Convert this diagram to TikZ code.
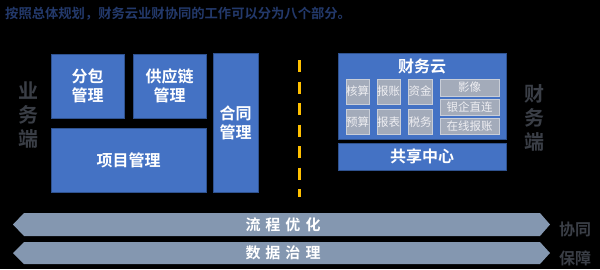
\documentclass[tikz,border=0pt]{standalone}
\usepackage{fontspec}
\newfontfamily\cjk{Noto Sans CJK SC}[BoldFont={Noto Sans CJK SC Bold}]
\definecolor{boxblue}{HTML}{4472C4}
\definecolor{blueedge}{HTML}{2F528F}
\definecolor{smallgray}{HTML}{A3ABBA}
\definecolor{smalledge}{HTML}{C9CED8}
\definecolor{smalltext}{HTML}{EEEEF2}
\definecolor{arrowgray}{HTML}{8497B0}
\definecolor{sidegray}{HTML}{3A3E46}
\definecolor{titlenavy}{HTML}{23396B}
\definecolor{dashyellow}{HTML}{FFC000}
\tikzset{
  bluebox/.style={draw=blueedge, fill=boxblue, text=white, line width=0.8pt,
    font=\cjk\bfseries\fontsize{16}{19}\selectfont, align=center, inner sep=0pt},
  smallbox/.style={draw=smalledge, fill=smallgray, text=smalltext, line width=0.8pt,
    font=\cjk\fontsize{11.5}{13}\selectfont, inner sep=0pt},
  sidelabel/.style={text=sidegray, font=\cjk\bfseries\fontsize{20}{24}\selectfont, align=center, inner sep=0pt},
  bandlabel/.style={text=white, font=\cjk\bfseries\fontsize{15}{18}\selectfont, inner sep=0pt},
  band/.style={fill=arrowgray},
  sidesmall/.style={text=sidegray, font=\cjk\bfseries\fontsize{16}{19}\selectfont, inner sep=0pt},
}
\begin{document}
\begin{tikzpicture}[x=1pt,y=-1pt]
\fill[black] (0,0) rectangle (600,269);
\useasboundingbox (0,0) rectangle (600,269);
% title
\node[anchor=west, text=titlenavy, font=\cjk\bfseries\fontsize{13.3}{16}\selectfont, inner sep=0pt] (title) at (5,14) {按照总体规划，财务云业财协同的工作可以分为八个部分。};
% business side
\node[sidelabel] (yewu) at (29,115) {业\\务\\端};
\node[bluebox, minimum width=73pt, minimum height=64pt] (fenbao) at (87.5,86) {分包\\管理};
\node[bluebox, minimum width=73pt, minimum height=64pt] (gongying) at (169.5,86) {供应链\\管理};
\node[bluebox, minimum width=155pt, minimum height=64pt] (xiangmu) at (128.5,160) {项目管理};
\node[bluebox, minimum width=45pt, minimum height=139pt] (hetong) at (235.5,122.5) {合同\\管理};
% divider
\coordinate (dtop) at (299,60);
\coordinate (dbot) at (299,197);
\draw[dashyellow, line width=3pt, dash pattern=on 12pt off 9.5pt] (dtop) -- (dbot);
% finance cloud
\node[bluebox, minimum width=168pt, minimum height=86pt] (cloud) at (422,96) {};
\node[text=white, font=\cjk\bfseries\fontsize{16}{19}\selectfont, inner sep=0pt] (cloudtitle) at (422,66) {财务云};
\node[smallbox, minimum width=23pt, minimum height=25pt] (hesuan) at (357.5,91.5) {核算};
\node[smallbox, minimum width=23pt, minimum height=25pt] (baozhang) at (388.5,91.5) {报账};
\node[smallbox, minimum width=24pt, minimum height=25pt] (zijin) at (420,91.5) {资金};
\node[smallbox, minimum width=23pt, minimum height=25pt] (yusuan) at (357.5,122) {预算};
\node[smallbox, minimum width=23pt, minimum height=25pt] (baobiao) at (388.5,122) {报表};
\node[smallbox, minimum width=24pt, minimum height=25pt] (shuiwu) at (420,122) {税务};
\node[smallbox, minimum width=59pt, minimum height=17pt] (yingxiang) at (469.5,87.5) {影像};
\node[smallbox, minimum width=59pt, minimum height=16pt] (yinqi) at (469.5,107) {银企直连};
\node[smallbox, minimum width=59pt, minimum height=16pt] (zaixian) at (469.5,126) {在线报账};
\node[bluebox, minimum width=168pt, minimum height=27pt] (gongxiang) at (422,156.5) {共享中心};
\node[sidelabel] (caiwu) at (534,117.5) {财\\务\\端};
% bands
\fill[band] (13,224.5) -- (24,213) -- (540,213) -- (550,224.5) -- (540,236) -- (24,236) -- cycle;
\node[bandlabel] (liucheng) at (283,224.5) {流\hspace{5pt}程\hspace{5pt}优\hspace{5pt}化};
\fill[band] (13,253) -- (24,242) -- (540,242) -- (550,253) -- (540,264) -- (24,264) -- cycle;
\node[bandlabel] (shuju) at (283,253) {数\hspace{5pt}据\hspace{5pt}治\hspace{5pt}理};
\node[sidesmall] (xietong) at (575,229) {协同};
\node[sidesmall] (baozhang2) at (575,258) {保障};
\end{tikzpicture}
\end{document}
